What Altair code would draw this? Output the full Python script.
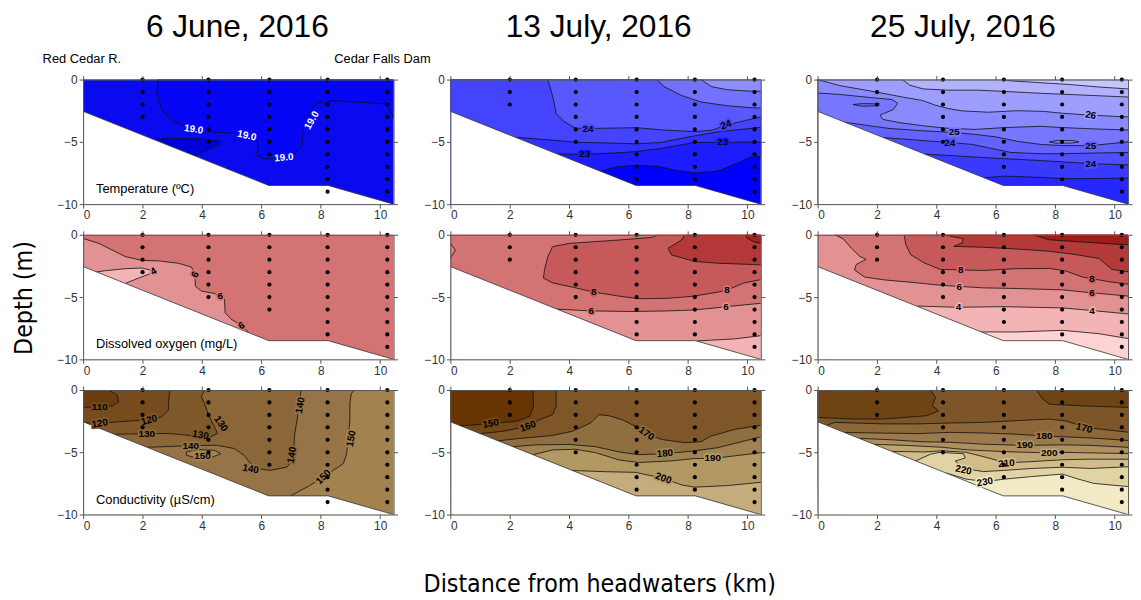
import altair as alt
import pandas as pd

FONT = "Liberation Sans"
NARROW = "Liberation Sans Narrow, DejaVu Sans Condensed, Liberation Sans"

# ---------------- text ----------------
DATES = ["6 June, 2016", "13 July, 2016", "25 July, 2016"]
VARIABLES = ["Temperature  (\u00baC)", "Dissolved oxygen (mg/L)", "Conductivity  (\u00b5S/cm)"]
ENDS = ["Red Cedar R.", "Cedar Falls Dam"]
Y_TITLE = ["Depth (m)"]
X_TITLE = ["Distance from headwaters (km)"]
X_TICKS = [0, 2, 4, 6, 8, 10]
Y_TICKS = [0, -5, -10]

# ---------------- bathymetry (km, m) ----------------
BOTTOM_KM = [0.0, 6.25, 8.25, 10.45]
BOTTOM_DEPTH = [-2.55, -8.5, -8.5, -10.0]

# ---------------- sampling stations ----------------
STATIONS_KM = [2.0, 4.22, 6.27, 8.23, 10.24]
DEEPEST_JUNE_TC = [3, 5, 6, 9, 9]
DEEPEST_JUNE_DO = [3, 5, 6, 8, 9]
DEEPEST_JUL13 = [2, 5, 8, 8, 9]
DEEPEST_JUL25 = [2, 5, 7, 8, 9]

# ---------------- isolines (km, depth m) ----------------
# Temperature 6 June
T0606_19 = [(2.53, 0), (2.48, -1.03), (2.64, -2.35), (2.98, -3.28), (3.42, -3.8), (3.87, -4.15), (4.31, -4.2),
            (4.76, -4.26), (5.2, -4.34), (5.64, -4.6), (5.87, -5.0), (5.89, -5.53), (5.81, -6.06), (6.09, -6.37),
            (6.53, -6.32), (7.09, -6.06), (7.37, -5.26), (7.42, -3.94), (7.59, -2.88), (7.76, -2.09), (7.98, -1.83),
            (8.53, -1.69), (9.42, -1.83), (10.2, -1.96), (10.37, -2.62), (10.45, -3.15)]
T0606_LOOP = [(2.37, -4.8), (3.0, -4.72), (4.0, -4.76), (4.6, -4.95), (4.55, -5.3), (4.2, -5.6), (3.75, -6.1)]
T0606_LABELS = [(3.72, -4.0, "19.0", 8), (5.51, -4.5, "19.0", 12), (6.76, -6.27, "19.0", 355), (7.7, -3.28, "19.0", 300)]

# Temperature 13 July
T0713_C = [(5.05, -7.35), (5.6, -7.0), (6.22, -6.88), (7.0, -6.96), (7.6, -7.3), (8.22, -7.49), (9.0, -7.35),
           (9.67, -6.69), (10.1, -6.24), (10.45, -6.16)]
T0713_23 = [(3.6, -5.97), (4.39, -6.0), (5.5, -5.9), (6.28, -5.77), (7.17, -5.5), (8.22, -5.05), (9.0, -5.03),
            (10.45, -5.02)]
T0713_A = [(2.17, -4.62), (4.22, -5.02), (6.28, -5.16), (7.06, -5.05), (8.22, -4.52), (9.06, -4.18), (10.45, -3.83)]
T0713_24 = [(3.28, 0), (3.39, -0.87), (3.5, -1.93), (3.56, -2.72), (3.83, -3.38), (4.22, -3.91), (5.06, -3.91),
            (6.28, -3.86), (7.17, -4.05), (8.27, -4.18), (8.83, -4.05), (9.27, -3.65), (9.94, -3.28), (10.45, -3.0)]
T0713_MID = [(6.94, 0), (7.22, -0.6), (7.78, -1.27), (8.44, -1.8), (9.33, -2.1), (10.1, -2.25), (10.45, -2.28)]
T0713_TOP = [(8.44, 0), (8.78, -0.56), (9.33, -0.82), (10.1, -0.93), (10.45, -0.93)]
T0713_LABELS = [(4.63, -3.97, "24", 0), (9.28, -3.65, "24", 340), (9.17, -5.03, "23", 0), (4.52, -6.0, "23", 0)]

# Temperature 25 July
T0725_T7 = [(5.6, -7.88), (6.3, -7.75), (7.5, -7.85), (8.24, -7.95), (9.2, -7.95), (10.45, -7.9)]
T0725_T6 = [(3.6, -5.98), (4.5, -6.1), (5.5, -6.25), (6.3, -6.35), (7.5, -6.5), (8.24, -6.6), (9.19, -6.75),
            (10.45, -6.85)]
T0725_T5 = [(2.2, -4.65), (3.3, -4.85), (4.4, -5.05), (5.2, -5.2), (5.8, -5.5), (6.5, -5.85), (7.5, -5.95),
            (8.24, -5.95), (9.2, -5.9), (10.45, -5.85)]
T0725_T4 = [(0.9, -3.42), (2.4, -3.92), (3.5, -4.1), (4.58, -4.25), (5.3, -4.4), (6.0, -4.6), (6.7, -4.95),
            (7.5, -5.2), (8.24, -5.3), (9.19, -5.3), (10.45, -5.0)]
T0725_T3 = [(0, -1.08), (0.74, -1.19), (1.86, -1.46), (2.5, -1.6), (2.7, -1.9), (2.55, -2.4), (2.1, -2.85),
            (2.2, -3.2), (2.74, -3.45), (3.52, -3.7), (4.3, -3.9), (5.3, -4.0), (6.3, -3.85), (7.5, -3.75),
            (8.24, -3.85), (9.2, -3.95), (10.45, -4.05)]
T0725_T2 = [(0, 0), (0.74, -0.48), (1.97, -1.0), (2.86, -1.4), (3.52, -1.67), (3.97, -2.06), (4.41, -2.33),
            (4.86, -2.51), (5.74, -2.62), (6.7, -2.5), (7.6, -2.55), (8.24, -2.7), (9.19, -2.86), (10.45, -3.0)]
T0725_T1 = [(2.86, 0), (3.1, -0.45), (3.55, -0.75), (4.4, -0.85), (5.4, -0.85), (6.3, -0.95), (7.5, -1.1),
            (9.0, -1.25), (10.45, -1.4)]
T0725_T0 = [(6.2, 0), (6.5, -0.1), (7.5, -0.25), (8.5, -0.4), (9.5, -0.6), (10.45, -0.75)]
T0725_LOOPA = [(7.8, -5.0), (8.1, -4.88), (8.6, -4.9), (8.8, -5.0), (8.55, -5.1), (8.0, -5.1)]
T0725_LOOPB = [(1.19, -2.0), (1.5, -1.93), (2.08, -1.95), (2.0, -2.1), (1.5, -2.14)]
T0725_LABELS = [(9.19, -2.86, "26", 10), (4.6, -4.25, "25", 0), (9.19, -5.32, "25", 0), (4.45, -5.08, "24", 0),
                (9.19, -6.75, "24", 0)]

# Dissolved oxygen 6 June
D0606_6 = [(0, -0.29), (0.53, -0.69), (1.42, -1.75), (1.98, -2.06), (2.53, -2.09), (3.2, -2.28), (3.64, -2.59),
           (3.76, -3.07), (3.78, -4.13), (3.98, -4.52), (4.42, -4.71), (4.76, -5.19), (4.78, -6.24), (4.98, -6.77),
           (5.34, -7.3), (5.6, -7.9)]
D0606_4 = [(0.45, -2.98), (0.76, -2.88), (1.42, -2.72), (1.98, -2.67), (2.31, -2.86), (2.26, -3.12), (1.87, -3.47),
           (1.42, -3.9)]
D0606_LABELS = [(2.37, -2.96, "4", 330), (3.78, -3.2, "6", 300), (4.62, -4.9, "6", 0), (5.34, -7.3, "6", 330)]

# Dissolved oxygen 13 July
D0713_BR = [(8.3, -8.52), (9.56, -8.36), (10.45, -8.1)]
D0713_6 = [(3.6, -5.97), (4.74, -6.11), (6.11, -6.16), (7.33, -6.11), (8.22, -6.03), (9.0, -5.85), (9.28, -5.77),
           (10.45, -5.5)]
D0713_BUMP = [(0, -0.69), (0.17, -1.22), (0, -1.88)]
D0713_8 = [(7.0, 0), (6.78, -0.21), (5.67, -0.42), (4.0, -0.69), (3.44, -0.95), (3.28, -1.75), (3.17, -2.8),
           (3.13, -3.47), (3.44, -3.86), (4.22, -4.26), (4.83, -4.6), (5.67, -4.92), (6.33, -5.13), (7.33, -5.1),
           (8.22, -4.92), (9.0, -4.6), (9.31, -4.44), (9.89, -3.86), (10.45, -3.6)]
D0713_10 = [(7.89, 0), (7.78, -0.42), (7.33, -1.08), (7.44, -1.61), (8.22, -2.14), (9.0, -2.28), (10.45, -2.41)]
D0713_12 = [(9.94, 0), (10.0, -0.29), (10.22, -0.56), (10.45, -0.69)]
D0713_LABELS = [(4.83, -4.6, "8", 0), (9.31, -4.44, "8", 0), (4.74, -6.11, "6", 0), (9.28, -5.77, "6", 0)]

# Dissolved oxygen 25 July
D0725_2 = [(5.47, -7.8), (6.69, -7.8), (8.24, -7.67), (9.47, -7.94), (10.45, -8.33)]
D0725_4 = [(3.36, -5.72), (4.69, -5.82), (6.24, -5.77), (8.24, -5.87), (9.24, -6.08), (10.45, -6.35)]
D0725_6 = [(0.58, 0), (0.86, -0.32), (1.13, -1.06), (1.41, -1.72), (1.63, -1.98), (1.3, -2.38), (1.24, -2.83),
           (1.58, -3.39), (2.24, -3.62), (3.36, -3.86), (4.13, -4.05), (5.58, -4.26), (6.69, -4.31), (8.24, -4.42),
           (9.24, -4.66), (10.45, -4.92)]
D0725_8 = [(2.91, 0), (2.97, -0.79), (3.13, -1.59), (3.58, -2.25), (4.13, -2.78), (5.58, -2.86), (6.69, -2.72),
           (7.8, -2.7), (8.36, -2.91), (8.91, -3.39), (9.8, -3.76), (10.45, -3.97)]
D0725_10 = [(4.24, 0), (4.91, -0.32), (4.86, -0.66), (4.58, -0.93), (5.58, -1.0), (6.69, -1.14), (7.8, -1.32),
            (8.69, -1.59), (9.47, -1.9), (9.91, -2.78), (10.45, -2.96)]
D0725_12 = [(7.24, 0), (7.8, -0.4), (8.91, -0.58), (10.02, -0.75), (10.45, -0.8)]
D0725_LABELS = [(4.82, -2.84, "8", 0), (9.24, -3.52, "8", 0), (4.77, -4.18, "6", 0), (9.24, -4.66, "6", 0),
                (4.74, -5.82, "4", 0), (9.24, -6.1, "4", 0)]

# Conductivity 6 June
C0606_150 = [(9.14, 0), (9.03, -0.27), (8.98, -1.08), (8.98, -2.42), (8.93, -3.76), (8.87, -5.11), (8.76, -5.91),
             (8.42, -6.45), (7.64, -7.66), (6.98, -8.5)]
C0606_140 = [(7.33, 0), (7.29, -1.08), (7.2, -2.42), (7.11, -3.76), (7.09, -5.51), (6.87, -6.18), (6.31, -6.45),
             (5.87, -6.32), (5.59, -5.78), (5.42, -5.24), (5.09, -4.7), (4.53, -4.44), (3.64, -4.46), (2.53, -4.57),
             (2.09, -4.6)]
C0606_130 = [(4.09, 0), (3.98, -0.54), (4.09, -1.08), (4.2, -1.88), (4.42, -2.96), (4.53, -3.49), (4.31, -3.75),
             (3.53, -3.63), (2.87, -3.49), (1.05, -3.55)]
C0606_120 = [(2.92, 0), (2.89, -0.54), (2.87, -1.61), (2.64, -2.15), (2.22, -2.42), (1.98, -2.42), (1.2, -2.55),
             (0.53, -2.68), (0.1, -2.65)]
C0606_110 = [(0.87, 0), (1.14, -0.4), (1.2, -0.94), (0.98, -1.29), (0.42, -1.34), (0, -1.4)]
C0606_LOOP = [(3.48, -4.97), (3.87, -4.78), (4.42, -4.84), (4.64, -5.11), (4.31, -5.43), (3.76, -5.43),
              (3.48, -5.24)]
C0606_LABELS = [(0.56, -1.34, "110", 0), (0.56, -2.69, "120", 350), (2.22, -2.42, "120", 345),
                (2.14, -3.53, "130", 0), (3.95, -3.62, "130", 10), (4.64, -2.72, "130", 55),
                (3.62, -4.47, "140", 0), (4.02, -5.3, "150", 0), (5.64, -6.34, "140", 10),
                (7.03, -5.22, "140", 280), (7.31, -1.23, "140", 280), (8.09, -6.99, "150", 315),
                (9.03, -3.9, "150", 280)]

# Conductivity 13 July
C0713_200 = [(4.11, -6.46), (5.22, -6.56), (6.22, -6.61), (7.17, -7.09), (7.78, -7.62), (8.22, -7.8), (9.33, -7.67),
             (10.45, -7.41)]
C0713_190 = [(2.78, -5.2), (3.44, -4.81), (4.22, -4.76), (4.89, -5.03), (5.67, -5.61), (6.33, -5.82), (7.44, -5.69),
             (8.22, -5.5), (8.83, -5.5), (9.56, -5.29), (10.45, -5.03)]
C0713_180 = [(2.1, -4.55), (2.89, -4.4), (4.0, -4.37), (4.89, -4.55), (5.67, -4.97), (6.33, -5.19), (7.22, -5.11),
             (8.22, -4.89), (9.0, -4.63), (9.67, -4.23), (10.45, -3.76)]
C0713_170 = [(1.61, -4.08), (2.33, -3.89), (3.44, -3.65), (4.11, -3.31), (4.72, -2.65), (5.0, -1.98), (5.33, -2.06),
             (5.78, -2.38), (6.22, -2.91), (6.67, -3.57), (7.11, -3.97), (7.89, -4.23), (8.44, -4.15), (8.78, -3.7),
             (9.56, -3.17), (10.45, -2.83)]
C0713_160 = [(3.56, 0), (3.56, -1.32), (3.44, -1.98), (3.0, -2.38), (2.61, -2.91), (1.78, -3.31), (1.0, -3.5)]
C0713_150 = [(2.78, 0), (2.8, -1.32), (2.67, -2.12), (2.22, -2.51), (1.36, -2.7), (0.67, -2.83), (0.3, -2.85)]
C0713_LABELS = [(1.36, -2.7, "150", 350), (2.61, -2.93, "160", 340), (6.6, -3.5, "170", 35),
                (7.22, -5.11, "180", 355), (8.83, -5.5, "190", 0), (7.17, -7.09, "200", 20)]

# Conductivity 25 July
C0725_230 = [(4.3, -6.65), (5.0, -7.15), (5.63, -7.35), (6.3, -7.15), (7.2, -6.95), (8.24, -6.75), (8.7, -7.1),
             (9.3, -7.5), (10.45, -7.75)]
C0725_220 = [(3.3, -5.7), (3.8, -5.15), (4.13, -5.0), (4.91, -5.12), (4.97, -5.45), (4.63, -5.71), (4.91, -6.3),
             (5.58, -6.55), (6.3, -6.45), (7.2, -6.3), (8.24, -6.2), (9.2, -6.3), (10.45, -6.16)]
C0725_210 = [(2.5, -4.93), (3.6, -4.97), (4.2, -4.88), (5.0, -5.0), (5.58, -5.35), (6.36, -5.85), (7.2, -5.75),
             (8.24, -5.6), (9.2, -5.55), (10.45, -5.56)]
C0725_200 = [(1.9, -4.36), (3.0, -4.45), (4.2, -4.6), (5.0, -4.8), (6.3, -4.95), (7.8, -5.05), (8.24, -5.0),
             (9.2, -5.05), (10.45, -5.1)]
C0725_190 = [(1.4, -3.88), (2.5, -4.0), (3.5, -4.15), (4.47, -4.2), (5.58, -4.35), (6.97, -4.45), (8.24, -4.4),
             (9.2, -4.45), (10.45, -4.6)]
C0725_180 = [(0.9, -3.41), (2.0, -3.45), (3.36, -3.5), (4.47, -3.4), (5.58, -3.45), (6.69, -3.55), (7.63, -3.7),
             (8.24, -3.75), (9.2, -3.85), (10.45, -4.05)]
C0725_170 = [(0.3, -2.84), (0.58, -2.6), (2.24, -2.72), (3.36, -2.72), (4.47, -2.65), (5.58, -2.6), (6.69, -2.46),
             (7.8, -2.33), (8.4, -2.5), (8.97, -3.0), (9.58, -3.15), (10.45, -3.39)]
C0725_160L = [(3.8, 0), (3.97, -0.61), (3.86, -1.27), (4.08, -1.67), (3.69, -2.06), (2.24, -2.33), (1.13, -2.33),
              (0, -2.2)]
C0725_160R = [(7.36, 0), (7.58, -0.74), (7.8, -1.14), (8.91, -1.27), (10.45, -1.4)]
C0725_LABELS = [(8.97, -3.07, "170", 15), (7.63, -3.73, "180", 0), (6.97, -4.45, "190", 0), (7.8, -5.05, "200", 0),
                (6.36, -5.9, "210", 355), (4.91, -6.43, "220", 12), (5.63, -7.4, "230", 350)]

# ---------------- styling / layout ----------------
W, H = 314, 126
XS = alt.Scale(domain=[0, 10.45], nice=False, zero=False)
YS = alt.Scale(domain=[-10, 0], nice=False, zero=False)
TL, TR, BL, BR = (-1, 1), (11, 1), (-1, -12), (11, -12)
LINE_C = "#111111"
AXIS_C = "#555555"


def R(line, pre, post, color):
    return {"line": line, "pts": list(pre) + list(line) + list(post), "color": color}


PANELS = [
    # row 0 : temperature
    [dict(base="#0A0AF0", regions=[R(T0606_19, [(2.53, 1)], [TR], "#0606F6"),
                                   R(T0606_LOOP, [], [BL], "#0000DC")],
          loops=[], labels=T0606_LABELS, label_color="white", deep=DEEPEST_JUNE_TC),
     dict(base="#0000FF", regions=[R(T0713_C, [BL], [TR, TL], "#1C1CFF"),
                                   R(T0713_23, [BL], [TR, TL], "#3030FF"),
                                   R(T0713_A, [BL], [TR, TL], "#4444FF"),
                                   R(T0713_24, [(3.28, 1)], [TR], "#5858FF"),
                                   R(T0713_MID, [(6.94, 1)], [TR], "#7272FF"),
                                   R(T0713_TOP, [(8.44, 1)], [TR], "#8E8EFF")],
          loops=[], labels=T0713_LABELS, label_color="black", deep=DEEPEST_JUL13),
     dict(base="#2626FF", regions=[R(T0725_T7, [BL], [TR, TL], "#3A3AFF"),
                                   R(T0725_T6, [BL], [TR, TL], "#4E4EFF"),
                                   R(T0725_T5, [BL], [TR, TL], "#6262FF"),
                                   R(T0725_T4, [BL], [TR, TL], "#7676FF"),
                                   R(T0725_T3, [(-1, -1.08)], [TR, TL], "#8A8AFF"),
                                   R(T0725_T2, [TL], [TR], "#9E9EFF"),
                                   R(T0725_T1, [(2.86, 1)], [TR], "#B2B2FF"),
                                   R(T0725_T0, [(6.2, 1)], [TR], "#C6C6FF")],
          loops=[(T0725_LOOPA, "#8282FF"), (T0725_LOOPB, "#6A6AFF")],
          labels=T0725_LABELS, label_color="black", deep=DEEPEST_JUL25)],
    # row 1 : dissolved oxygen
    [dict(base="#D47373", regions=[R(D0606_6, [(-1, -0.29)], [BL], "#E29292"),
                                   R(D0606_4, [], [BL], "#F2B4B4")],
          loops=[], labels=D0606_LABELS, label_color="black", deep=DEEPEST_JUNE_DO),
     dict(base="#F2B4B4", regions=[R(D0713_BR, [BL], [TR, TL], "#E29292"),
                                   R(D0713_6, [BL], [TR, TL], "#D47373"),
                                   R(D0713_BUMP, [(-1, -0.69)], [(-1, -1.88)], "#DC8585"),
                                   R(D0713_8, [(7.0, 1)], [TR], "#C65A5A"),
                                   R(D0713_10, [(7.89, 1)], [TR], "#B43838"),
                                   R(D0713_12, [(9.94, 1)], [TR], "#A42424")],
          loops=[], labels=D0713_LABELS, label_color="black", deep=DEEPEST_JUL13),
     dict(base="#FFD3D3", regions=[R(D0725_2, [BL], [TR, TL], "#F2B4B4"),
                                   R(D0725_4, [BL], [TR, TL], "#E29292"),
                                   R(D0725_6, [(0.58, 1)], [TR], "#D47373"),
                                   R(D0725_8, [(2.91, 1)], [TR], "#C65A5A"),
                                   R(D0725_10, [(4.24, 1)], [TR], "#B43A3A"),
                                   R(D0725_12, [(7.24, 1)], [TR], "#9E1C1C")],
          loops=[], labels=D0725_LABELS, label_color="black", deep=DEEPEST_JUL25)],
    # row 2 : conductivity
    [dict(base="#A2824F", regions=[R(C0606_150, [(9.14, 1)], [BL, TL], "#977448"),
                                   R(C0606_140, [(7.33, 1)], [BL, TL], "#8B6638"),
                                   R(C0606_130, [(4.09, 1)], [BL, TL], "#80592A"),
                                   R(C0606_120, [(2.92, 1)], [BL, TL], "#764C1E"),
                                   R(C0606_110, [(0.87, 1)], [(-1, -1.4), TL], "#6A3C10")],
          loops=[(C0606_LOOP, "#A2824F")], labels=C0606_LABELS, label_color="black", deep=DEEPEST_JUNE_TC),
     dict(base="#C4AC7C", regions=[R(C0713_200, [BL], [TR, TL], "#B29862"),
                                   R(C0713_190, [BL], [TR, TL], "#A08350"),
                                   R(C0713_180, [BL], [TR, TL], "#8F6E40"),
                                   R(C0713_170, [BL], [TR, TL], "#7E5628"),
                                   R(C0713_160, [(3.56, 1)], [BL, TL], "#744716"),
                                   R(C0713_150, [(2.78, 1)], [BL, TL], "#673402")],
          loops=[], labels=C0713_LABELS, label_color="black", deep=DEEPEST_JUL13),
     dict(base="#F2EAC4", regions=[R(C0725_230, [BL], [TR, TL], "#E2D3A4"),
                                   R(C0725_220, [BL], [TR, TL], "#D1BC8A"),
                                   R(C0725_210, [BL], [TR, TL], "#BFA574"),
                                   R(C0725_200, [BL], [TR, TL], "#AD8F60"),
                                   R(C0725_190, [BL], [TR, TL], "#9B7A4C"),
                                   R(C0725_180, [BL], [TR, TL], "#8B673A"),
                                   R(C0725_170, [BL], [TR, TL], "#7D5528"),
                                   R(C0725_160L, [(3.8, 1)], [(-1, -2.2), TL], "#6E4414"),
                                   R(C0725_160R, [(7.36, 1)], [TR], "#6E4414")],
          loops=[], labels=C0725_LABELS, label_color="black", deep=DEEPEST_JUL25)],
]

TITLE_X = [156, 150, 147]


def inside(px, py, poly):
    res = False
    n = len(poly)
    for i in range(n):
        x1, y1 = poly[i]
        x2, y2 = poly[(i + 1) % n]
        if (y1 > py) != (y2 > py):
            xc = x1 + (py - y1) * (x2 - x1) / (y2 - y1)
            if px < xc:
                res = not res
    return res


def colour_at(p, x, y):
    col = p["base"]
    for reg in p["regions"]:
        if inside(x, y, reg["pts"]):
            col = reg["color"]
    for loop, lc in p["loops"]:
        if inside(x, y, loop):
            col = lc
    return col


def pts_df(pts):
    return pd.DataFrame({"x": [p[0] for p in pts], "y": [p[1] for p in pts], "k": list(range(len(pts)))})


def enc(axis_x=None, axis_y=None):
    return dict(x=alt.X("x:Q", scale=XS, axis=axis_x), y=alt.Y("y:Q", scale=YS, axis=axis_y),
                order=alt.Order("k:Q"))


AX_B = alt.Axis(orient="bottom", values=X_TICKS, format="d", title=None, grid=False, labelFontSize=12,
                labelColor="#333333", tickColor=AXIS_C, domainColor=AXIS_C, tickSize=4, labelPadding=2,
                zindex=1, labelFont=FONT)
AX_L = alt.Axis(orient="left", values=Y_TICKS, format="d", title=None, grid=False, labelFontSize=12,
                labelColor="#333333", tickColor=AXIS_C, domainColor=AXIS_C, tickSize=4, labelPadding=2,
                zindex=1, labelFont=FONT)
AX_T = alt.Axis(orient="top", values=X_TICKS, labels=False, title=None, grid=False, tickColor=AXIS_C,
                domainColor=AXIS_C, tickSize=4, zindex=1)
AX_R = alt.Axis(orient="right", values=Y_TICKS, labels=False, title=None, grid=False, tickColor=AXIS_C,
                domainColor=AXIS_C, tickSize=4, zindex=1)


def text_layer(txt, px, py, size, font=FONT, align="left", baseline="middle", angle=0):
    return alt.Chart(pd.DataFrame({"t": [txt]})).mark_text(
        font=font, fontSize=size, align=align, baseline=baseline, angle=angle, color="black"
    ).encode(x=alt.value(px), y=alt.value(py), text="t:N")


def make_panel(r, c):
    p = PANELS[r][c]
    layers = []
    # whole water column, base colour
    layers.append(alt.Chart(pts_df([TL, TR, BR, BL])).mark_line(
        fill=p["base"], strokeWidth=0, interpolate="linear-closed", clip=True).encode(**enc(AX_B, AX_L)))
    # bands
    for reg in p["regions"]:
        layers.append(alt.Chart(pts_df(reg["pts"])).mark_line(
            fill=reg["color"], strokeWidth=0, interpolate="linear-closed", clip=True).encode(**enc()))
    # contour lines
    rows = []
    for i, reg in enumerate(p["regions"]):
        for k, (x, y) in enumerate(reg["line"]):
            rows.append({"x": x, "y": y, "k": k, "id": i})
    layers.append(alt.Chart(pd.DataFrame(rows)).mark_line(
        color=LINE_C, strokeWidth=0.8, clip=True).encode(detail="id:N", **enc()))
    for loop, col in p["loops"]:
        layers.append(alt.Chart(pts_df(loop)).mark_line(
            fill=col, stroke=LINE_C, strokeWidth=0.8, interpolate="linear-closed", clip=True).encode(**enc()))
    # white mask below the bottom
    mask = pd.DataFrame({"x": BOTTOM_KM, "y": BOTTOM_DEPTH, "y2": [-12] * len(BOTTOM_KM)})
    layers.append(alt.Chart(mask).mark_area(color="white", clip=True).encode(
        x=alt.X("x:Q", scale=XS, axis=None), y=alt.Y("y:Q", scale=YS, axis=None), y2="y2:Q"))
    layers.append(alt.Chart(mask).mark_line(color="#333333", strokeWidth=0.8, clip=True).encode(
        x=alt.X("x:Q", scale=XS, axis=None), y=alt.Y("y:Q", scale=YS, axis=None)))
    # contour labels, with a halo in the local band colour that breaks the isoline
    lab = pd.DataFrame({"x": [l[0] for l in p["labels"]], "y": [l[1] for l in p["labels"]],
                        "t": [l[2] for l in p["labels"]], "a": [l[3] for l in p["labels"]],
                        "h": [colour_at(p, l[0], l[1]) for l in p["labels"]]})
    lab_enc = dict(x=alt.X("x:Q", scale=XS, axis=None), y=alt.Y("y:Q", scale=YS, axis=None), text="t:N",
                   angle=alt.Angle("a:Q", scale=None))
    layers.append(alt.Chart(lab).mark_text(
        font=FONT, fontSize=10, fontWeight="bold", baseline="middle", align="center", strokeWidth=3.5,
        strokeJoin="round").encode(fill=alt.Fill("h:N", scale=None), stroke=alt.Stroke("h:N", scale=None),
                                   **lab_enc))
    layers.append(alt.Chart(lab).mark_text(
        font=FONT, fontSize=10, fontWeight="bold", color=p["label_color"], baseline="middle", align="center"
    ).encode(**lab_enc))
    # sampling points
    dots = pd.DataFrame([{"x": s, "y": -d} for s, dmax in zip(STATIONS_KM, p["deep"]) for d in range(dmax + 1)])
    layers.append(alt.Chart(dots).mark_circle(size=18, color="black", opacity=1).encode(
        x=alt.X("x:Q", scale=XS, axis=AX_T), y=alt.Y("y:Q", scale=YS, axis=AX_R)))
    # texts
    if c == 0:
        layers.append(text_layer(VARIABLES[r], 13, 111, 13))
    if r == 0:
        layers.append(text_layer(DATES[c], TITLE_X[c], -43, 32, align="center", baseline="alphabetic"))
    if r == 0 and c == 0:
        layers.append(text_layer(ENDS[0], -41, -21, 13))
        layers.append(text_layer(ENDS[1], 254, -21, 13))
        layers.append(alt.Chart(pd.DataFrame({"t": [0]})).mark_rect(opacity=0).encode(
            x=alt.value(-76), x2=alt.value(0), y=alt.value(-68), y2=alt.value(0)))
    if r == 1 and c == 0:
        layers.append(text_layer(Y_TITLE[0], -60, 64, 25, font=NARROW, align="center", angle=270))
    if r == 2 and c == 1:
        layers.append(text_layer(X_TITLE[0], 151, 196, 25, font=NARROW, align="center"))
    return alt.layer(*layers).resolve_axis(x="independent", y="independent").properties(width=W, height=H)


panels = [make_panel(r, c) for r in range(3) for c in range(3)]
chart = alt.concat(*panels, columns=3, spacing=alt.RowColnumber(row=31, column=57.5), bounds="flush") \
    .properties(padding=0, background="white").configure_view(stroke=None)

chart.save("out.html", embed_options={"renderer": "svg", "actions": False})
